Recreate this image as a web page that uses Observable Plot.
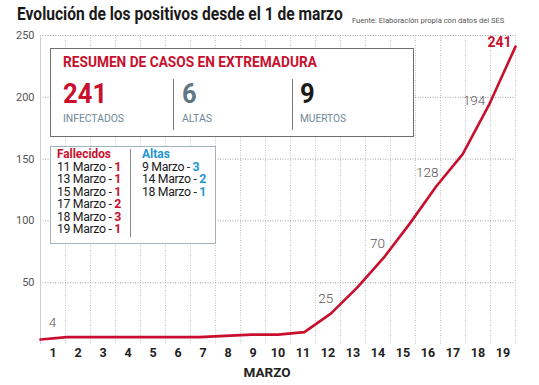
<!DOCTYPE html>
<html>
<head>
<meta charset="utf-8">
<script src="https://cdn.jsdelivr.net/npm/d3@7"></script>
<script src="https://cdn.jsdelivr.net/npm/@observablehq/plot@0.6"></script>
<style>
  html, body { margin: 0; padding: 0; background: #fff; }
  #chart { width: 539px; height: 385px; overflow: hidden; }
</style>
</head>
<body>
<div id="chart"></div>
<script>
// ---- data ----
const days = [1, 2, 3, 4, 5, 6, 7, 8, 9, 10, 11, 12, 13, 14, 15, 16, 17, 18, 19];
const positives = [4, 6, 6, 6, 6, 6, 6, 7, 8, 8, 10, 25, 46, 70, 98, 128, 154, 194, 241];
const labelledDays = [1, 12, 14, 16, 18, 19];
const yTicks = [50, 100, 150, 200, 250];
const xTitle = "MARZO";
const title = "Evolución de los positivos desde el 1 de marzo";
const source = "Fuente: Elaboración propia con datos del SES";
const summaryTitle = "RESUMEN DE CASOS EN EXTREMADURA";
const summaryLabels = ["INFECTADOS", "ALTAS", "MUERTOS"];
const summaryValues = [241, 6, 9];
const fallecidosTitle = "Fallecidos";
const fallecidosDates = ["11 Marzo", "13 Marzo", "15 Marzo", "17 Marzo", "18 Marzo", "19 Marzo"];
const fallecidosCounts = [1, 1, 1, 2, 3, 1];
const altasTitle = "Altas";
const altasDates = ["9 Marzo", "14 Marzo", "18 Marzo"];
const altasCounts = [3, 2, 1];

// ---- styles ----
const RED = "#c8102e";
const BLUE = "#2196d3";
const SLATE = "#5f7886";
const labelDx = [12, -5, -6, -9, -15, -16];
const labelDy = [-17, -15, -14, -14, -4, -4];

// x scale runs over 19 day-bands [0,19]; the line's vertices span the full width
const lineX = d => (d - 1) * 19 / 18;
const table = days.map((d, i) => ({day: d, value: positives[i]}));

const labelMarks = labelledDays.map((d, i) => {
  const row = table.filter(r => r.day === d);
  const last = d === days[days.length - 1];
  return Plot.text(row, {
    x: r => lineX(r.day), y: "value", text: r => String(r.value),
    dx: labelDx[i], dy: labelDy[i],
    fontSize: last ? 14 : 13.5,
    fontWeight: last ? 700 : 300,
    fill: last ? RED : "#555"
  });
});

const plot = Plot.plot({
  width: 539, height: 385,
  marginLeft: 40, marginRight: 24, marginTop: 35, marginBottom: 41,
  style: {fontFamily: "Roboto, 'Noto Sans', sans-serif", background: "#fff", overflow: "visible"},
  x: {domain: [0, 19], axis: null},
  y: {domain: [0, 250], axis: null},
  marks: [
    Plot.ruleX(d3.range(1, 20), {stroke: "#c4c4c4", strokeDasharray: "1,1.5", strokeWidth: 1}),
    Plot.ruleY(yTicks, {stroke: "#a0a0a0", strokeDasharray: "1,1.5", strokeWidth: 1}),
    Plot.ruleX([0], {stroke: "#cfcfcf", strokeWidth: 1}),
    Plot.axisY(yTicks, {tickSize: 0, tickPadding: 6, fontSize: 11, color: "#555", label: null}),
    Plot.axisX(days.map(d => d - 0.5), {
      tickSize: 0, tickPadding: 4, fontSize: 12.5, fontWeight: 700, color: "#222", label: null,
      tickFormat: d => String(d + 0.5)
    }),
    Plot.text([xTitle], {text: d => d, frameAnchor: "bottom", dx: -11, dy: 32, fontSize: 13.5, fontWeight: 700, fill: "#222"}),
    Plot.line(table, {x: r => lineX(r.day), y: "value", stroke: RED, strokeWidth: 2.6, strokeLinejoin: "round", strokeLinecap: "round"}),
    ...labelMarks
  ]
});
document.getElementById("chart").appendChild(plot);

// ---- annotations (title, source, boxes) ----
const svg = d3.select(plot);
const F = "Roboto, 'Noto Sans', sans-serif";

function addText(g, str, x, y, opts) {
  const t = g.append("text").text(str)
    .attr("text-anchor", "start")
    .attr("font-family", F).attr("font-size", opts.size).attr("font-weight", opts.weight || 400)
    .attr("fill", opts.fill || "#222");
  if (opts.len) {
    // condense horizontally to the reference width
    t.attr("x", 0).attr("y", 0);
    const natural = t.node().getComputedTextLength();
    const sx = Math.min(1, opts.len / natural);
    t.attr("transform", `translate(${x},${y}) scale(${sx},1)`);
  } else {
    t.attr("x", x).attr("y", y);
  }
  return t;
}

const ann = svg.append("g").attr("text-anchor", "start");
addText(ann, title, 17, 20, {size: 18.5, weight: 700, fill: "#1a1a1a", len: 326});
addText(ann, source, 352, 23, {size: 7.6, fill: "#555", len: 160});

// summary box
ann.append("rect").attr("x", 50.5).attr("y", 48.5).attr("width", 363).attr("height", 88)
  .attr("fill", "#fff").attr("stroke", "#6f6f6f").attr("stroke-width", 1);
addText(ann, summaryTitle, 63, 67, {size: 14, weight: 700, fill: RED, len: 254});
const colX = [63, 182, 300];
const valueFill = [RED, SLATE, "#1a1a1a"];
const labelLen = [61, 30, 46];
summaryValues.forEach((v, i) => {
  addText(ann, String(v), colX[i], 103, {size: 28, weight: 700, fill: valueFill[i], len: String(v).length * 14.7});
  addText(ann, summaryLabels[i], colX[i], 122, {size: 11, fill: "#6e8896", len: labelLen[i]});
});
[173.5, 292.5].forEach(x => ann.append("line").attr("x1", x).attr("x2", x).attr("y1", 79).attr("y2", 130)
  .attr("stroke", "#7a7a7a").attr("stroke-width", 1));

// deaths / discharges box
ann.append("rect").attr("x", 50.5).attr("y", 146.5).attr("width", 165).attr("height", 97)
  .attr("fill", "#fff").attr("stroke", "#a3b3bb").attr("stroke-width", 1);
ann.append("line").attr("x1", 130.5).attr("x2", 130.5).attr("y1", 149).attr("y2", 237)
  .attr("stroke", "#8a8a8a").attr("stroke-width", 1);
addText(ann, fallecidosTitle, 57, 157.5, {size: 12.8, weight: 700, fill: RED, len: 54});
addText(ann, altasTitle, 142, 157.5, {size: 12.8, weight: 700, fill: BLUE, len: 28});

function row(x, y, date, n, color) {
  const t = ann.append("text").attr("x", x).attr("y", y).attr("text-anchor", "start")
    .attr("font-family", F).attr("font-size", 12.3).attr("letter-spacing", -0.35).attr("fill", "#1a1a1a");
  t.append("tspan").text(date + " - ");
  t.append("tspan").attr("font-weight", 700).attr("fill", color).text(String(n));
}
fallecidosDates.forEach((d, i) => row(57, 170.5 + i * 12.5, d, fallecidosCounts[i], RED));
altasDates.forEach((d, i) => row(142, 170.5 + i * 12.5, d, altasCounts[i], BLUE));
</script>
</body>
</html>
